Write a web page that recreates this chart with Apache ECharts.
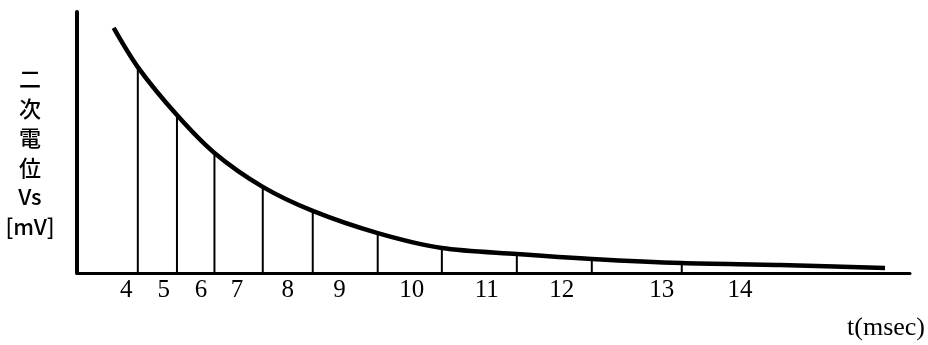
<!DOCTYPE html>
<html lang="ja" style="height: 100%">
<head>
<meta charset="utf-8">
<title>二次電位 Vs</title>
</head>
<body style="height: 100%; margin: 0; background: #fff">
<div id="container" style="height: 100%"></div>

<script type="text/javascript" src="https://cdn.jsdelivr.net/npm/echarts/dist/echarts.min.js"></script>

<script type="text/javascript">

// position along the t axis (0..100 of axis length) and Vs (0..100 of axis height)
var curvePos = [4.4, 7.3, 12.0, 16.5, 22.3, 28.3, 36.1, 43.8, 52.8, 61.8, 72.6, 84.4, 97.0];
var curveVal = [93.9, 78.9, 60.5, 46.0, 33.0, 23.8, 15.3, 9.6, 7.3, 5.4, 3.8, 3.1, 1.9];

// vertical drop lines sit on curve points 1..10
var dropPos = curvePos.slice(1, 11);
var dropVal = curveVal.slice(1, 11);

// tick labels and where they sit on the t axis
var tickLabels = ['4', '5', '6', '7', '8', '9', '10', '11', '12', '13', '14'];
var tickPos = [5.9, 10.4, 14.9, 19.2, 25.3, 31.5, 40.2, 49.2, 58.2, 70.2, 79.6];

var yTitle = '二\n次\n電\n位\nVs\n[mV]';
var xTitle = 't(msec)';

var dom = document.getElementById('container');
var myChart = echarts.init(dom);

var option = {
    animation: false,
    grid: {
        left: 77,
        right: 18,
        top: 12,
        bottom: 72
    },
    xAxis: {
        type: 'value',
        min: 0,
        max: 100,
        axisLine: { lineStyle: { color: '#000', width: 3 } },
        axisTick: { show: false },
        splitLine: { show: false },
        axisLabel: {
            customValues: tickPos,
            margin: 5,
            color: '#000',
            fontFamily: 'Liberation Serif',
            fontSize: 25,
            formatter: function (v) {
                var i = tickPos.indexOf(v);
                return i >= 0 ? tickLabels[i] : '';
            }
        }
    },
    yAxis: {
        type: 'value',
        min: 0,
        max: 100,
        axisLine: { show: true, lineStyle: { color: '#000', width: 4 } },
        axisTick: { show: false },
        axisLabel: { show: false },
        splitLine: { show: false }
    },
    graphic: [{
        type: 'text',
        x: 30,
        y: 64,
        style: {
            text: yTitle,
            fill: '#000',
            font: '500 22px "Noto Sans CJK JP"',
            lineHeight: 29.5,
            align: 'center',
            verticalAlign: 'top'
        }
    }, {
        type: 'text',
        right: 3,
        top: 315,
        style: {
            text: xTitle,
            fill: '#000',
            font: '26px "Liberation Serif"'
        }
    }],
    series: [
        {
            type: 'bar',
            barWidth: 2,
            itemStyle: { color: '#000' },
            data: dropPos.map(function (p, i) { return [p, dropVal[i]]; })
        },
        {
            type: 'line',
            smooth: 0.3,
            symbol: 'none',
            lineStyle: { color: '#000', width: 4.5 },
            data: curvePos.map(function (p, i) { return [p, curveVal[i]]; })
        }
    ]
};

myChart.setOption(option);
window.addEventListener('resize', myChart.resize);
</script>
</body>
</html>
